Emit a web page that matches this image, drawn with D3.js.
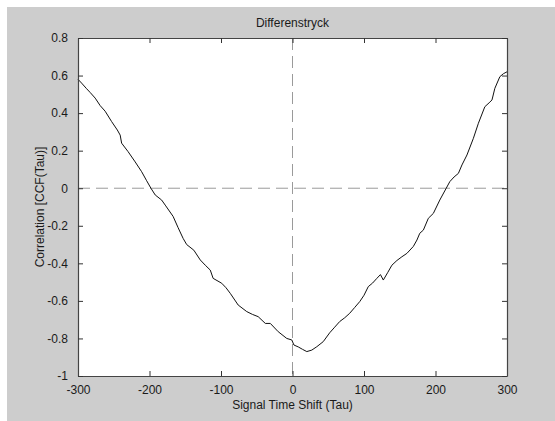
<!DOCTYPE html>
<html>
<head>
<meta charset="utf-8">
<script src="https://cdn.jsdelivr.net/npm/d3@7"></script>
<style>
  body { margin: 0; background: #fff; }
  svg text { font-family: "Liberation Sans", Arial, sans-serif; fill: #1a1a1a; }
</style>
</head>
<body>
<script>
// values
const tau = [-300, -295, -288, -283, -276, -269, -262, -253, -245, -241, -239, -230, -220, -211, -204, -198, -192, -183, -178, -167, -160, -153, -148, -138, -129, -122, -115, -111, -99, -93, -87, -76, -64, -56, -48, -38, -31, -20, -8, -1, 2, 8, 14, 20, 27, 34, 43, 52, 59, 66, 73, 80, 87, 94, 100, 106, 112, 118, 123, 127, 133, 139, 146, 153, 160, 169, 174, 178, 183, 190, 197, 206, 215, 220, 226, 232, 237, 244, 253, 260, 269, 275, 279, 283, 290, 295, 300];
const ccf = [0.58, 0.56, 0.53, 0.51, 0.48, 0.44, 0.41, 0.355, 0.31, 0.283, 0.24, 0.195, 0.14, 0.088, 0.04, 0.0, -0.036, -0.063, -0.09, -0.15, -0.21, -0.267, -0.30, -0.33, -0.382, -0.41, -0.436, -0.48, -0.506, -0.53, -0.56, -0.622, -0.657, -0.672, -0.684, -0.72, -0.72, -0.764, -0.80, -0.808, -0.835, -0.845, -0.858, -0.87, -0.862, -0.844, -0.817, -0.77, -0.74, -0.71, -0.69, -0.666, -0.635, -0.604, -0.57, -0.524, -0.505, -0.48, -0.46, -0.489, -0.45, -0.41, -0.385, -0.365, -0.347, -0.31, -0.276, -0.24, -0.223, -0.16, -0.134, -0.063, 0.0, 0.035, 0.06, 0.079, 0.124, 0.177, 0.266, 0.346, 0.434, 0.455, 0.47, 0.532, 0.594, 0.61, 0.62];
const xTicks = [-300, -200, -100, 0, 100, 200, 300];
const yTicks = [-1, -0.8, -0.6, -0.4, -0.2, 0, 0.2, 0.4, 0.6, 0.8];
const title = "Differenstryck";
const xLabel = "Signal Time Shift (Tau)";
const yLabel = "Correlation [CCF(Tau)]";

const W = 555, H = 421;
const plot = {left: 78, right: 507, top: 38, bottom: 376};

const svg = d3.select("body").append("svg")
  .attr("width", W).attr("height", H);

// figure background
svg.append("rect").attr("x", 7).attr("y", 7).attr("width", W - 7).attr("height", H - 7)
  .attr("fill", "#cdcdcd");

svg.append("rect").attr("x", plot.left).attr("y", plot.top)
  .attr("width", plot.right - plot.left).attr("height", plot.bottom - plot.top)
  .attr("fill", "#fff");

const x = d3.scaleLinear().domain([-300, 300]).range([plot.left, plot.right]);
const y = d3.scaleLinear().domain([-1, 0.8]).range([plot.bottom, plot.top]);

// zero lines
svg.append("line")
  .attr("x1", x(0)).attr("x2", x(0)).attr("y1", plot.top).attr("y2", plot.bottom)
  .attr("stroke", "#9a9a9a").attr("stroke-dasharray", "12,6");
svg.append("line")
  .attr("x1", plot.left).attr("x2", plot.right).attr("y1", y(0)).attr("y2", y(0))
  .attr("stroke", "#9a9a9a").attr("stroke-dasharray", "12,6");

// the curve
const data = tau.map((t, i) => ({t: t, v: ccf[i]}));
svg.append("path")
  .datum(data)
  .attr("fill", "none")
  .attr("stroke", "#111")
  .attr("stroke-width", 1)
  .attr("d", d3.line().x(d => x(d.t)).y(d => y(d.v)));

// axes, ticks pointing inward, mirrored on top/right
// plain hyphen for negatives, like the original
const fmt = d => String(+d.toFixed(1));
svg.append("g").attr("transform", `translate(0,${plot.bottom})`)
  .call(d3.axisBottom(x).tickValues(xTicks).tickSizeInner(-5).tickSizeOuter(0).tickPadding(9).tickFormat(fmt));
svg.append("g").attr("transform", `translate(0,${plot.top})`)
  .call(d3.axisTop(x).tickValues(xTicks).tickSizeInner(-5).tickSizeOuter(0).tickFormat(""));
svg.append("g").attr("transform", `translate(${plot.left},0)`)
  .call(d3.axisLeft(y).tickValues(yTicks).tickSizeInner(-5).tickSizeOuter(0).tickPadding(10).tickFormat(fmt));
svg.append("g").attr("transform", `translate(${plot.right},0)`)
  .call(d3.axisRight(y).tickValues(yTicks).tickSizeInner(-5).tickSizeOuter(0).tickFormat(""));

svg.selectAll(".domain").attr("stroke", "#444").attr("stroke-width", 1.2);
svg.selectAll(".tick line").attr("stroke", "#333");
svg.selectAll(".tick text").attr("font-size", 12).style("font-family", "Liberation Sans, Arial, sans-serif").attr("fill", "#1a1a1a");

svg.append("text").attr("x", x(0)).attr("y", 27).attr("text-anchor", "middle")
  .attr("font-size", 12).text(title);
svg.append("text").attr("x", x(0)).attr("y", 409).attr("text-anchor", "middle")
  .attr("font-size", 12).text(xLabel);
svg.append("text").attr("transform", `translate(44,${(plot.top + plot.bottom) / 2}) rotate(-90)`)
  .attr("text-anchor", "middle").attr("font-size", 12).text(yLabel);
</script>
</body>
</html>
